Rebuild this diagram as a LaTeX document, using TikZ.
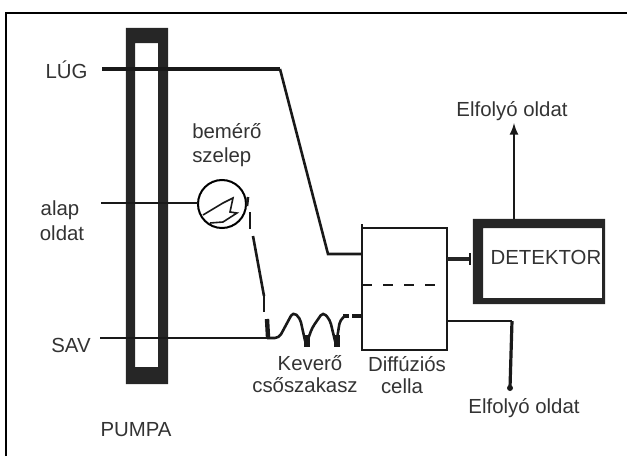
\documentclass[tikz,border=0pt]{standalone}
\usepackage{fontspec}
\setmainfont{Liberation Sans}
\tikzset{
	felirat/.style={inner sep=0pt,text=black!80,font=\fontsize{14.5}{17}\selectfont},
	vezetek/.style={line width=1mm,color=black!90},
	vekony/.style={line width=.4mm,color=black!90},
	kozepes/.style={line width=.65mm,color=black!90},
	vastag/.style={line width=1.1mm,color=black!90},
	falak/.style={fill=black!85,even odd rule},
	doboz/.style={inner sep=0pt,outer sep=0pt}
}
\begin{document}
\begin{tikzpicture}[x=.025cm,y=-.025cm,>=latex]
	\useasboundingbox (0,0) rectangle (627,456);

	% frame
	\draw[line width=.6mm] (6,456) -- (6,13) -- (627,13);

	% pump
	\node[doboz,minimum width=1.05cm,minimum height=8.9cm] (pumpa) at (147,206) {};
	\fill[falak] (pumpa.north west) rectangle (pumpa.south east) (135,43) rectangle (158,367);
	\node[felirat] (pumpalabel) at (136,430) {PUMPA};

	% valve
	\node[doboz,draw,circle,line width=.5mm,minimum size=1.2cm] (szelep) at (222,204) {};
	\draw[vekony] (203,215) -- (223,203) -- (233,198) -- (230,212) -- (237,213) -- (223,222) -- (210,223);
	\node[felirat,anchor=west] (szeleplabel) at (192,131) {bemérő};
	\node[felirat,anchor=west] (szeleplabel2) at (192,157) {szelep};

	% cell
	\node[doboz,draw,kozepes,line width=.5mm,minimum width=2.125cm,minimum height=3.05cm] (cella) at (404.5,289) {};
	\draw[kozepes,line width=.5mm] (cella.north west) -- ++(0,-4);
	\draw[kozepes,dash pattern=on 7pt off 8pt] (cella.west |- 0,285) -- (cella.east |- 0,285);
	\node[felirat] (cellalabel) at (407,364) {Diffúziós};
	\node[felirat] (cellalabel2) at (402,386) {cella};

	% detector
	\node[doboz,minimum width=3.3cm,minimum height=2.125cm] (detektor) at (539,261.5) {};
	\fill[falak] (detektor.north west) rectangle (detektor.south east) (483,228) rectangle (602,298);
	\node[felirat] (detektorlabel) at (546,257) {DETEKTOR};

	% inlets
	\node[felirat] (lug) at (66.5,70) {LÚG};
	\node[felirat] (alap) at (60,210) {alap};
	\node[felirat] (oldat) at (62,233) {oldat};
	\node[felirat] (sav) at (71,345) {SAV};
	\coordinate (lugstart) at (102,69);
	\coordinate (lugtop) at (280,69);
	\coordinate (lugend) at (328,254);
	\coordinate (alapstart) at (101,203);
	\coordinate (savstart) at (100,338);
	\coordinate (savend) at (267,338);
	\draw[vezetek] (lugstart) -- (lugtop);
	\draw[kozepes] (lugtop) -- (lugend) -- (lugend -| cella.west);
	\draw[vekony] (alapstart) -- (szelep.west |- alapstart);
	\draw[kozepes] (savstart) -- (savend);

	% valve outlet
	\draw[kozepes] (248,197) -- (247,206);
	\draw[kozepes] (250,212) -- (250,229);
	\draw[kozepes] (253,236) -- (264,296);
	\draw[vekony] (264,296) -- (264,312);
	\draw[vastag] (267,319) -- (268,337);

	% mixing coil
	\node[felirat] (keverolabel) at (310,363) {Keverő};
	\node[felirat] (keverolabel2) at (305,385) {csőszakasz};
	\draw[kozepes,rounded corners=3] (savend) -- (279,338) -- (293,312) -- (300,318) -- (306,345) -- (312,328) -- (323,312) -- (330,320) -- (336,345) -- (340,320) -- (345,316);
	\foreach \x in {307,337} {
		\draw[line width=1.4mm,color=black!90] (\x,335) -- (\x,347);
	};
	\draw[vastag] (343,316) -- (349,316);
	\draw[vastag] (352,316) -- (cella.west |- 0,316);

	% detector feed
	\coordinate (mero) at (470,259);
	\draw[line width=1.2mm,color=black!85] (cella.east |- mero) -- (mero);
	\draw[vekony] (mero) ++(0,-6) -- ++(0,12);

	% outflows
	\coordinate (kifolyo) at (514,123);
	\coordinate (sarok) at (512,321);
	\coordinate (alsovege) at (510,388);
	\draw[->,kozepes] (detektor.north -| kifolyo) -- (kifolyo);
	\node[felirat] (felsolabel) at (512,111) {Elfolyó oldat};
	\draw[kozepes] (cella.east |- sarok) -- (sarok);
	\draw[kozepes,line width=.8mm] (sarok) -- (alsovege);
	\fill[black!90] (alsovege) circle (3);
	\node[felirat] (alsolabel) at (524,408) {Elfolyó oldat};
\end{tikzpicture}
\end{document}
